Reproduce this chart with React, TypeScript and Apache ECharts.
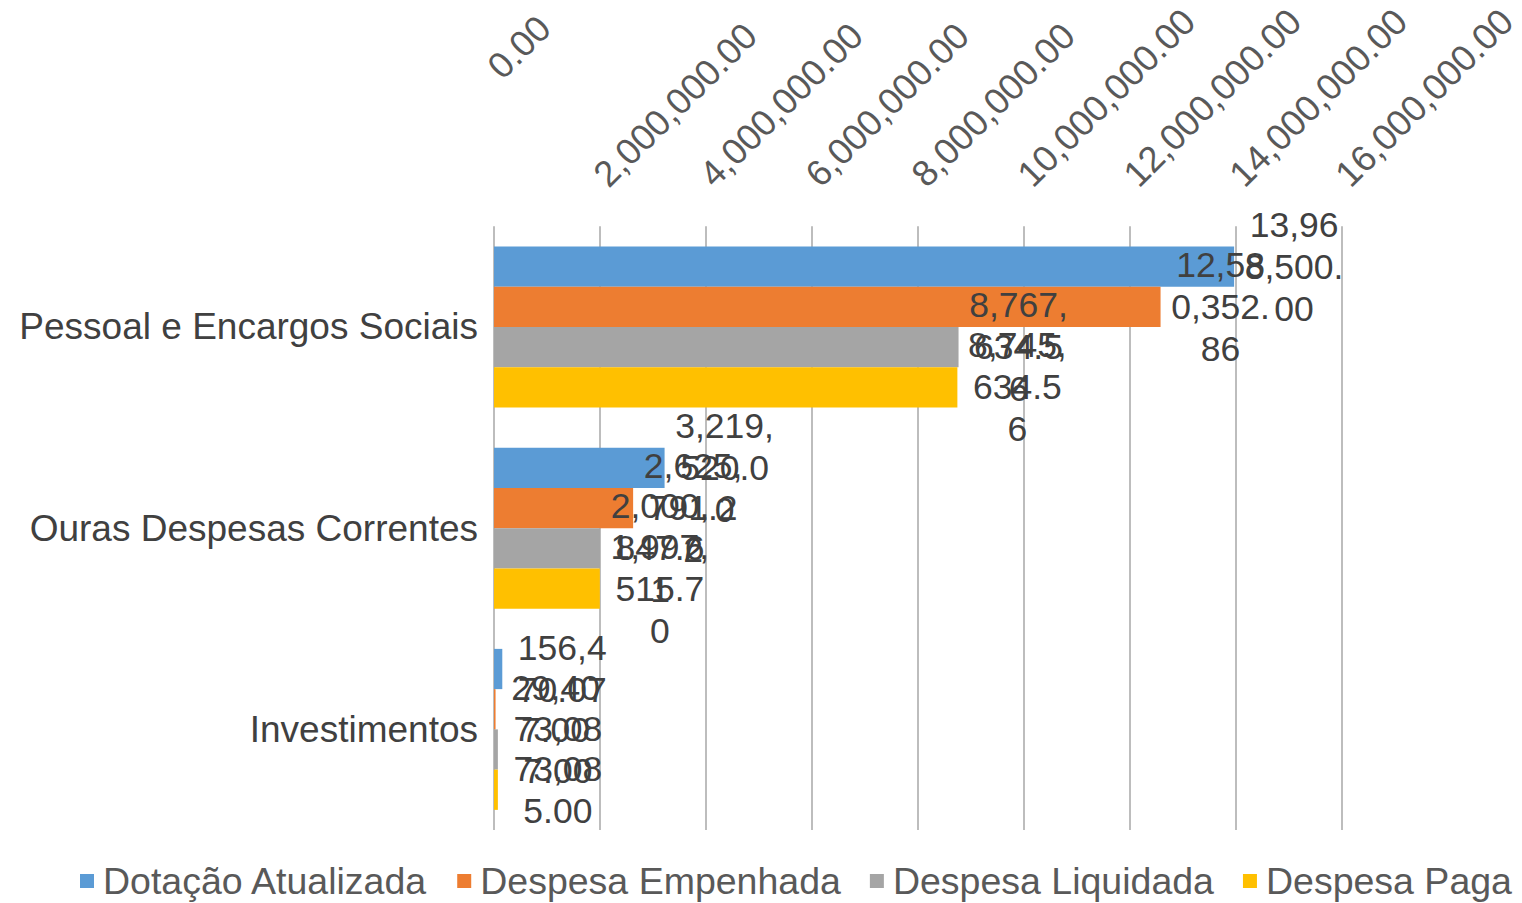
import React, { useEffect, useRef } from 'react';
import * as echarts from 'echarts';

const categories = ['Pessoal e Encargos Sociais', 'Ouras Despesas Correntes', 'Investimentos'];
const seriesNames = ['Dotação Atualizada', 'Despesa Empenhada', 'Despesa Liquidada', 'Despesa Paga'];
const dotacaoAtualizada = [13968500.0, 3219520.0, 156470.07];
const despesaEmpenhada = [12580352.86, 2625791.22, 29407.0];
const despesaLiquidada = [8767634.56, 2000847.61, 73087.0];
const despesaPaga = [8745634.56, 1997515.7, 73085.0];
const axisMin = 0;
const axisMax = 16000000;
const axisInterval = 2000000;
const colors = ['#5B9BD5', '#ED7D31', '#A5A5A5', '#FFC000'];

const FONT = '"Liberation Sans", Arial, sans-serif';

const fmt = (v: number) =>
  v.toLocaleString('en-US', { minimumFractionDigits: 2, maximumFractionDigits: 2 });

const tickLabelStyle = {
  rotate: -45,
  margin: 46,
  fontSize: 36.5,
  color: '#595959',
  fontFamily: FONT,
  showMinLabel: true,
  showMaxLabel: true,
  hideOverlap: false,
};

export default function App() {
  const ref = useRef<HTMLDivElement>(null);
  useEffect(() => {
    if (!ref.current) return;
    const chart = echarts.init(ref.current, undefined, { renderer: 'svg' });
    const seriesData = [dotacaoAtualizada, despesaEmpenhada, despesaLiquidada, despesaPaga];
    chart.setOption({
      animation: false,
      color: colors,
      grid: { left: 494, right: 179, top: 225, bottom: 73, containLabel: false },
      legend: {
        data: seriesNames,
        top: 862,
        left: 80,
        width: 1442,
        padding: 0,
        icon: 'rect',
        itemWidth: 14,
        itemHeight: 14,
        itemGap: 29,
        textStyle: { fontSize: 37.5, color: '#595959', fontFamily: FONT, padding: [0, 0, 0, 4] },
      },
      xAxis: [
        {
          type: 'value',
          position: 'top',
          min: axisMin,
          max: axisMax,
          interval: axisInterval,
          axisLine: { show: false },
          axisTick: { show: false },
          splitLine: { show: true, lineStyle: { color: '#BDBDBD', width: 2 } },
          axisLabel: {
            ...tickLabelStyle,
            formatter: (v: number) => (v === axisMin ? '' : fmt(v)),
          },
        },
        {
          type: 'value',
          position: 'top',
          offset: 108,
          min: axisMin,
          max: axisMax,
          interval: axisInterval,
          axisLine: { show: false },
          axisTick: { show: false },
          splitLine: { show: false },
          axisLabel: {
            ...tickLabelStyle,
            formatter: (v: number) => (v === axisMin ? fmt(v) : ''),
          },
        },
      ],
      yAxis: {
        type: 'category',
        data: categories,
        inverse: true,
        axisLine: { show: false },
        axisTick: { show: false },
        axisLabel: { fontSize: 37, color: '#404040', fontFamily: FONT, margin: 16 },
      },
      series: seriesNames.map((name, i) => ({
        name,
        type: 'bar',
        xAxisIndex: 0,
        data: seriesData[i],
        barGap: '0%',
        barCategoryGap: '20%',
        itemStyle: { color: colors[i] },
        label: {
          show: true,
          position: 'right',
          distance: 60,
          align: 'center',
          width: 104,
          overflow: 'breakAll',
          lineHeight: 42,
          fontSize: 35.5,
          color: '#404040',
          fontFamily: FONT,
          formatter: (p: any) => fmt(p.value),
        },
      })),
    });
    return () => chart.dispose();
  }, []);
  return (
    <div
      ref={ref}
      style={{ position: 'absolute', left: 0, top: 0, width: 1522, height: 903 }}
    />
  );
}
